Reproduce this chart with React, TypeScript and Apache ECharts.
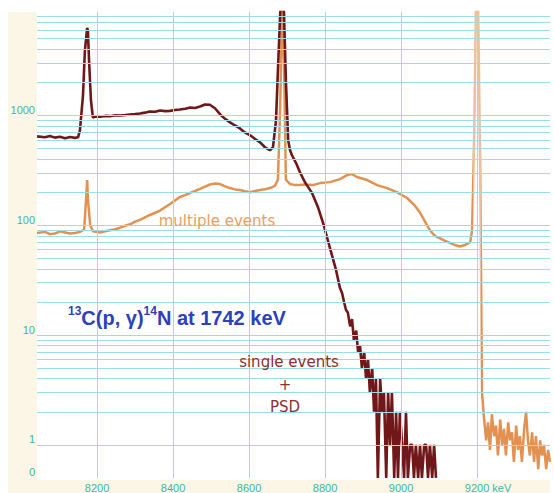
import React, { useEffect, useRef } from "react";
import * as echarts from "echarts";

// single events + PSD spectrum (energy in keV, counts)
const singleKeV = [
  8042, 8063, 8076, 8089, 8102, 8116, 8129, 8142, 8150, 8155, 8163, 8168, 8174, 8176, 8179, 8184, 8189, 8195,
  8208, 8221, 8234, 8248, 8261, 8274, 8287, 8300, 8313, 8326, 8339, 8353, 8366, 8379, 8392, 8405, 8418, 8432,
  8445, 8458, 8471, 8484, 8497, 8511, 8524, 8537, 8550, 8563, 8576, 8589, 8603, 8616, 8629, 8642, 8655, 8663,
  8671, 8676, 8682, 8687, 8692, 8697, 8703, 8708, 8713, 8724, 8734, 8747, 8766, 8782, 8797, 8813, 8829, 8839,
  8845, 8850, 8855, 8860, 8866, 8871, 8876, 8882, 8887, 8892, 8897, 8903, 8908, 8913, 8918, 8924, 8929, 8934,
  8939, 8945, 8950, 8955, 8961, 8966, 8971, 8976, 8982, 8987, 8992, 8997, 9003, 9008, 9013, 9018, 9024, 9029,
  9034, 9039, 9045, 9050, 9055, 9061, 9066, 9071, 9076, 9082, 9087, 9092,
];
const singleCounts = [
  645, 632, 650, 628, 640, 619, 636, 625, 632, 731, 1517, 3880, 6280, 5900, 3150, 1368, 959, 979,
  975, 990, 985, 1005, 1000, 1010, 1021, 1030, 1043, 1060, 1087, 1080, 1110, 1095, 1100, 1120, 1133, 1150,
  1182, 1170, 1207, 1258, 1250, 1157, 1021, 930, 865, 810, 762, 700, 659, 610, 569, 513, 482, 513,
  901, 2560, 8590, 12000, 8590, 2075, 593, 482, 434, 367, 304, 247, 196, 144, 99, 62, 39, 27,
  24, 20, 17, 16, 12, 14, 9, 11, 7, 8, 5, 7, 4, 6, 3, 5, 2, 4,
  0, 4, 2, 3, 0, 3, 1, 3, 0, 2, 0, 2, 1, 0, 2, 0, 1, 1,
  0, 1, 0, 1, 0, 1, 1, 0, 1, 0, 1, 0,
];

// multiple events spectrum
const multipleKeV = [
  8042, 8063, 8076, 8089, 8102, 8116, 8129, 8142, 8155, 8166, 8171, 8174, 8176, 8182, 8189, 8208, 8221, 8234,
  8248, 8261, 8274, 8287, 8300, 8313, 8326, 8339, 8353, 8366, 8379, 8392, 8405, 8418, 8432, 8445, 8458, 8471,
  8484, 8497, 8511, 8524, 8537, 8550, 8563, 8576, 8589, 8603, 8616, 8629, 8642, 8655, 8668, 8676, 8682, 8687,
  8692, 8697, 8708, 8721, 8734, 8747, 8768, 8787, 8813, 8839, 8858, 8871, 8884, 8911, 8937, 8963, 8989, 9016,
  9037, 9050, 9063, 9076, 9089, 9103, 9116, 9129, 9142, 9155, 9168, 9182, 9187, 9192, 9197, 9203, 9208, 9213,
  9218, 9224, 9229, 9234, 9239, 9245, 9250, 9255, 9261, 9266, 9271, 9276, 9282, 9287, 9292, 9297, 9303, 9308,
  9313, 9318, 9324, 9329, 9334, 9339, 9345, 9350, 9355, 9361, 9366, 9371, 9376, 9382, 9387, 9392,
];
const multipleCounts = [
  85, 87, 83, 84, 88, 86, 84, 85, 87, 91, 169, 258, 170, 100, 88, 86, 88, 90,
  92, 95, 99, 102, 108, 112, 118, 124, 130, 136, 146, 156, 168, 181, 188, 197, 205, 214,
  225, 235, 240, 237, 226, 218, 212, 209, 204, 200, 205, 209, 213, 218, 228, 260, 1200, 9500,
  3000, 260, 237, 232, 232, 235, 232, 242, 247, 263, 286, 292, 275, 258, 232, 218, 200, 177,
  150, 130, 108, 90, 80, 76, 72, 69, 66, 64, 66, 70, 90, 500, 9500, 9500, 400, 3,
  1.8, 1.1, 1.6, 0.9, 1.9, 1.2, 1.5, 0.8, 1.7, 1.0, 1.4, 0.8, 1.6, 1.1, 1.3, 0.7, 1.5, 0.9,
  1.2, 0.7, 1.4, 2.0, 1.1, 0.8, 1.3, 0.7, 1.2, 0.6, 1.1, 0.8, 1.0, 0.6, 0.9, 0.7,
];

const xTickValues = [8200, 8400, 8600, 8800, 9000, 9200];
const yTickValues = [0.5, 1, 10, 100, 1000];
const yTickLabels = ["0", "1", "10", "100", "1000"];
const decades = [1, 10, 100, 1000];
const multipliers = [1, 2, 3, 4, 5, 6, 7, 8, 9];

const ZERO_LEVEL = 0.5;
const X_MIN = 8042;
const X_MAX = 9392;
const Y_MIN = 0.499;
const Y_MAX = 8750;

export default function App() {
  const ref = useRef<HTMLDivElement>(null);

  useEffect(() => {
    if (!ref.current) return;
    const chart = echarts.init(ref.current, undefined, { renderer: "svg" });

    const toPairs = (xs: number[], ys: number[]) =>
      xs.map((x, i) => [x, ys[i] <= 0 ? ZERO_LEVEL : ys[i]]);

    const gridLevels: number[] = [];
    decades.forEach((d) => multipliers.forEach((m) => {
      const v = d * m;
      if (v <= Y_MAX) gridLevels.push(v);
    }));

    const gridColor = "#9bdde6";
    const labelColor = "#3db5aa";

    const option: any = {
      animation: false,
      backgroundColor: "#ffffff",
      grid: {
        left: 37, top: 12, right: 4, bottom: 13,
        show: true, backgroundColor: "#ffffff", borderWidth: 0,
      },
      visualMap: [
        {
          type: "piecewise", show: false, dimension: 0, seriesIndex: 1,
          pieces: [
            { min: 8000, max: 9189, color: "#e39150" },
            { min: 9189, max: 9211, color: "#efbe9c" },
            { min: 9211, max: 9500, color: "#e39150" },
          ],
        },
      ],
      xAxis: {
        type: "value", min: X_MIN, max: X_MAX,
        axisLine: { show: false }, axisTick: { show: false }, splitLine: { show: false },
        axisLabel: {
          customValues: xTickValues,
          color: labelColor, fontSize: 11, fontFamily: "Liberation Sans", margin: 4,
          formatter: (v: number) => (v === 9200 ? "{p|}9200 keV" : String(v)),
          rich: { p: { width: 22 } },
        },
      },
      yAxis: {
        type: "log", logBase: 10, min: Y_MIN, max: Y_MAX,
        axisLine: { show: false }, axisTick: { show: false }, splitLine: { show: false },
        minorSplitLine: { show: false },
        axisLabel: {
          customValues: yTickValues,
          color: labelColor, fontSize: 11, fontFamily: "Liberation Sans", margin: 2,
          verticalAlign: "bottom",
          formatter: (v: number) => {
            const i = yTickValues.findIndex((t) => Math.abs(t - v) / t < 0.01);
            return i >= 0 ? yTickLabels[i] : "";
          },
        },
      },
      series: [
        {
          type: "line", name: "grid", data: [[X_MIN, 1]], symbol: "none",
          lineStyle: { opacity: 0 }, silent: true, z: 1,
          markLine: {
            silent: true, symbol: "none", label: { show: false },
            lineStyle: { color: gridColor, width: 1, type: "solid" },
            emphasis: { disabled: true },
            data: [
              ...gridLevels.map((v) => ({ yAxis: v })),
              ...xTickValues.map((v) => ({ xAxis: v })),
            ],
          },
        },
        {
          type: "line", name: "multiple events", data: toPairs(multipleKeV, multipleCounts),
          symbol: "none", lineStyle: { width: 2.5 }, z: 2,
        },
        {
          type: "line", name: "single events + PSD", data: toPairs(singleKeV, singleCounts),
          symbol: "none", lineStyle: { color: "#701719", width: 2.6 }, z: 3,
        },
      ],
      graphic: {
        elements: [
          { type: "rect", z: -10, shape: { x: 8, y: 12, width: 29, height: 481 }, style: { fill: "#fcf6e7" } },
          { type: "rect", z: -10, shape: { x: 37, y: 480, width: 513, height: 13 }, style: { fill: "#fcf6e7" } },
          {
            type: "text", x: 68, y: 318, z: 10,
            style: {
              text: "{s|13}{b|C(p, γ)}{s|14}{b|N at 1742 keV}",
              verticalAlign: "middle", align: "left",
              fill: "#2d40bd",
              rich: {
                s: { fontSize: 12, fontWeight: "bold", fontFamily: "Liberation Sans", fill: "#2d40bd", lineHeight: 12, verticalAlign: "top" },
                b: { fontSize: 20, fontWeight: "bold", fontFamily: "Liberation Sans", fill: "#2d40bd", lineHeight: 26 },
              },
            },
          },
          {
            type: "text", x: 217, y: 221, z: 10,
            style: { text: "multiple events", font: "15px 'DejaVu Sans'", fill: "#e8a060", align: "center", verticalAlign: "middle" },
          },
          {
            type: "text", x: 289, y: 362, z: 10,
            style: { text: "single events", font: "15px 'DejaVu Sans'", fill: "#8c3030", align: "center", verticalAlign: "middle" },
          },
          {
            type: "text", x: 285, y: 385, z: 10,
            style: { text: "+", font: "15px 'DejaVu Sans'", fill: "#8c3030", align: "center", verticalAlign: "middle" },
          },
          {
            type: "text", x: 285, y: 407, z: 10,
            style: { text: "PSD", font: "15px 'DejaVu Sans'", fill: "#8c3030", align: "center", verticalAlign: "middle" },
          },
        ],
      },
    };

    chart.setOption(option);
    return () => chart.dispose();
  }, []);

  return (
    <div
      ref={ref}
      style={{ position: "fixed", left: 0, top: 0, width: 554, height: 493 }}
    />
  );
}
